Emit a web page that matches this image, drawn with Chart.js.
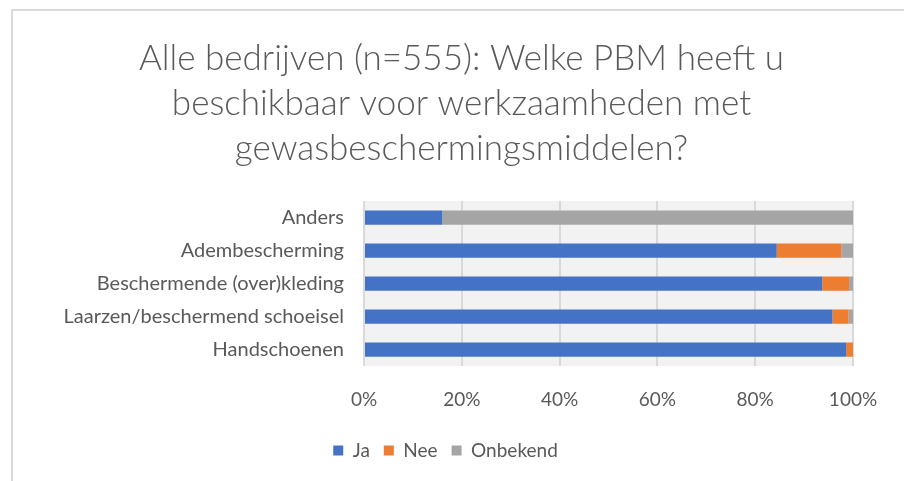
<!DOCTYPE html>
<html>
<head>
<meta charset="utf-8">
<script src="https://cdn.jsdelivr.net/npm/chart.js@4/dist/chart.umd.min.js"></script>
<style>
  html, body { margin: 0; padding: 0; background: #ffffff; }
  #wrap { width: 904px; height: 481px; position: relative; }
</style>
</head>
<body>
<div id="wrap"><canvas id="graph"></canvas></div>
<script>
// Data
var categories = ['Anders', 'Adembescherming', 'Beschermende (over)kleding', 'Laarzen/beschermend schoeisel', 'Handschoenen'];
var jaValues = [16, 84.4, 93.7, 95.8, 98.6];
var neeValues = [0, 13.2, 5.5, 3.3, 1.4];
var onbekendValues = [84, 2.4, 0.9, 0.9, 0];
var seriesNames = ['Ja', 'Nee', 'Onbekend'];
var tickLabels = ['0%', '20%', '40%', '60%', '80%', '100%'];
var titleLines = ['Alle bedrijven (n=555): Welke PBM heeft u', 'beschikbaar voor werkzaamheden met', 'gewasbeschermingsmiddelen?'];

var textGray = '#595959';
var fontName = 'Lato';

// plugin: white page, frame lines, gray plot area
var backgroundPlugin = {
  id: 'backgroundPlugin',
  afterLayout: function (chart) {
    // title and legend sit centred on the whole frame, not on the padded box
    chart.titleBlock.left += 35;
    chart.titleBlock.right += 35;
    chart.legend.left += 19;
    chart.legend.right += 19;
  },
  beforeDraw: function (chart) {
    var ctx = chart.ctx;
    var area = chart.chartArea;
    ctx.save();
    ctx.fillStyle = '#ffffff';
    ctx.fillRect(0, 0, chart.width, chart.height);
    ctx.fillStyle = '#D9D9D9';
    ctx.fillRect(11, 9, 2, chart.height - 9);   //left frame line
    ctx.fillRect(11, 9, chart.width - 11, 2);   //top frame line
    ctx.fillStyle = '#F2F2F2';
    ctx.fillRect(area.left, area.top, area.right - area.left, area.bottom - area.top);
    ctx.restore();
  }
};

function makeBarChart() {
  var barData = {
    labels: categories,
    datasets: [
      { label: seriesNames[0], data: jaValues, backgroundColor: '#4472C4' },
      { label: seriesNames[1], data: neeValues, backgroundColor: '#ED7D31' },
      { label: seriesNames[2], data: onbekendValues, backgroundColor: '#A5A5A5' }
    ]
  };

  var canvas = document.getElementById('graph');
  var ctx = canvas.getContext('2d');

  var chart = new Chart(ctx, {
    type: 'bar',
    data: barData,
    plugins: [backgroundPlugin],
    options: {
      indexAxis: 'y',
      responsive: true,
      maintainAspectRatio: false,
      animation: false,
      layout: { padding: { left: 0, right: 51, top: 0, bottom: 11 } },
      datasets: { bar: { categoryPercentage: 1, barPercentage: 0.43 } },
      scales: {
        x: {
          stacked: true,
          min: 0,
          max: 100,
          ticks: {
            stepSize: 20,
            color: textGray,
            font: { family: fontName, size: 19 },
            padding: 22,
            callback: function (value, index) { return tickLabels[index]; }
          },
          grid: { color: '#D9D9D9', lineWidth: 2, drawTicks: false },
          border: { display: false },
          afterFit: function (scale) { scale.height = scale.height - 6; }
        },
        y: {
          stacked: true,
          ticks: { color: textGray, font: { family: fontName, size: 20 }, padding: 20 },
          grid: { display: false, drawTicks: false },
          border: { display: false },
          afterFit: function (scale) { scale.width = 364; }
        }
      },
      plugins: {
        title: {
          display: true,
          text: titleLines,
          color: textGray,
          font: { family: fontName, size: 35, weight: 300, lineHeight: 1.286 },
          padding: { top: 36, bottom: 30 }
        },
        legend: {
          position: 'bottom',
          labels: {
            color: textGray,
            font: { family: fontName, size: 19 },
            boxWidth: 10,
            boxHeight: 10,
            padding: 14
          }
        },
        tooltip: { enabled: false }
      }
    }
  });
}

makeBarChart();
</script>
</body>
</html>
